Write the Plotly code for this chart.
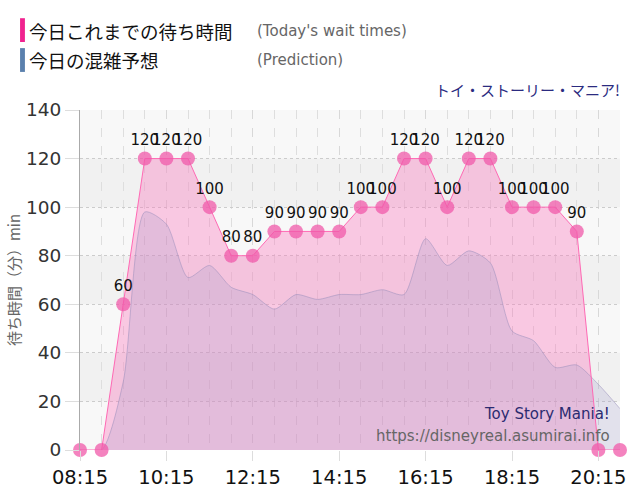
import plotly.graph_objects as go

times = ["08:15", "08:45", "09:15", "09:45", "10:15", "10:45", "11:15", "11:45",
         "12:15", "12:45", "13:15", "13:45", "14:15", "14:45", "15:15", "15:45",
         "16:15", "16:45", "17:15", "17:45", "18:15", "18:45", "19:15", "19:45",
         "20:15", "20:45"]
wait_today = [0, 0, 60, 120, 120, 120, 100, 80, 80, 90, 90, 90, 90, 100, 100, 120,
              120, 100, 120, 120, 100, 100, 100, 90, 0, 0]
prediction = [0, 0, 28, 98, 93, 71, 76, 67, 64, 58, 64, 62, 64, 64, 66, 64,
              87, 76, 82, 77, 49, 45, 34, 35, 27, 17]
tick_labels = ["08:15", "10:15", "12:15", "14:15", "16:15", "18:15", "20:15"]
y_ticks = [0, 20, 40, 60, 80, 100, 120, 140]


def to_min(t):
    h, m = t.split(":")
    return int(h) * 60 + int(m)


x = [to_min(t) for t in times]
tickvals = [to_min(t) for t in tick_labels]
labels = [str(v) if v > 0 else "" for v in wait_today]

fig = go.Figure()

# pink fill (today)
fig.add_trace(go.Scatter(
    x=x, y=wait_today, mode="lines", fill="tozeroy",
    line=dict(color="rgba(255,105,180,0)", width=0),
    fillcolor="rgba(250,120,190,0.38)", hoverinfo="skip", showlegend=False))

# prediction
fig.add_trace(go.Scatter(
    x=x, y=prediction, mode="lines", fill="tozeroy",
    line=dict(color="rgba(150,140,185,0.5)", width=1, shape="spline", smoothing=0.7),
    fillcolor="rgba(155,150,200,0.23)", showlegend=False))

# pink line + markers + labels
fig.add_trace(go.Scatter(
    x=x, y=wait_today, mode="lines+markers+text",
    line=dict(color="rgb(255,105,180)", width=1),
    marker=dict(size=14, color="rgba(240,90,170,0.75)", line=dict(width=0)),
    text=labels, textposition="top center",
    textfont=dict(size=15, color="#111", family="DejaVu Sans"),
    cliponaxis=False, showlegend=False))

shapes = []
for lo, hi in [(100, 120), (60, 80), (20, 40)]:
    shapes.append(dict(type="rect", xref="paper", yref="y", x0=0, x1=1, y0=lo, y1=hi,
                       fillcolor="#f1f1f1", line=dict(width=0), layer="below"))
# legend color bars
shapes.append(dict(type="rect", xref="paper", yref="paper", x0=-0.111, x1=-0.102,
                   y0=1.200, y1=1.270, fillcolor="#f0238f", line=dict(width=0)))
shapes.append(dict(type="rect", xref="paper", yref="paper", x0=-0.111, x1=-0.102,
                   y0=1.112, y1=1.182, fillcolor="#5a80ad", line=dict(width=0)))

cjk = "Noto Sans CJK JP"
annotations = [
    dict(text="今日これまでの待ち時間", xref="paper", yref="paper", x=-0.099, y=1.2324,
         xanchor="left", yanchor="middle", showarrow=False,
         font=dict(size=18.5, color="#111", family=cjk)),
    dict(text="(Today's wait times)", xref="paper", yref="paper", x=0.324, y=1.2324,
         xanchor="left", yanchor="middle", showarrow=False,
         font=dict(size=15, color="#666", family="DejaVu Sans")),
    dict(text="今日の混雑予想", xref="paper", yref="paper", x=-0.099, y=1.147,
         xanchor="left", yanchor="middle", showarrow=False,
         font=dict(size=18.5, color="#111", family=cjk)),
    dict(text="(Prediction)", xref="paper", yref="paper", x=0.324, y=1.147,
         xanchor="left", yanchor="middle", showarrow=False,
         font=dict(size=15, color="#666", family="DejaVu Sans")),
    dict(text="トイ・ストーリー・マニア!", xref="paper", yref="paper", x=1.004, y=1.059,
         xanchor="right", yanchor="middle", showarrow=False,
         font=dict(size=15, color="#2b2b80", family=cjk)),
    dict(text="Toy Story Mania!", xref="paper", yref="paper", x=0.985, y=0.106,
         xanchor="right", yanchor="middle", showarrow=False,
         font=dict(size=15, color="#2b2b70", family="DejaVu Sans")),
    dict(text="https://disneyreal.asumirai.info", xref="paper", yref="paper", x=0.985, y=0.041,
         xanchor="right", yanchor="middle", showarrow=False,
         font=dict(size=15, color="#666", family="DejaVu Sans")),
]

fig.update_layout(
    width=640, height=500,
    margin=dict(l=80, r=20, t=110, b=50),
    paper_bgcolor="white", plot_bgcolor="#f8f8f8",
    shapes=shapes, annotations=annotations,
    showlegend=False,
    xaxis=dict(
        range=[x[0], x[-1]], tickvals=tickvals, ticktext=tick_labels,
        tickfont=dict(size=19.5, color="#111", family="DejaVu Sans"),
        showgrid=True, gridcolor="#d8d8d8", griddash="dash", gridwidth=1,
        ticks="outside", ticklen=10, tickcolor="#dddddd",
        minor=dict(dtick=30, tick0=x[0], showgrid=True, gridcolor="#dedede",
                   griddash="dash", ticks=""),
        zeroline=False, showline=False, automargin=False),
    yaxis=dict(
        range=[0, 140], tickvals=y_ticks,
        tickfont=dict(size=18.5, color="#333", family="DejaVu Sans"),
        showgrid=True, gridcolor="#cccccc", griddash="dot", gridwidth=1,
        ticks="outside", ticklen=14, tickcolor="#dddddd",
        showline=True, linecolor="#aaaaaa", linewidth=1,
        zeroline=False, automargin=False,
        title=dict(text="待ち時間（分）min", font=dict(size=15, color="#666", family=cjk),
                   standoff=1)),
)

fig.write_html("out.html")
